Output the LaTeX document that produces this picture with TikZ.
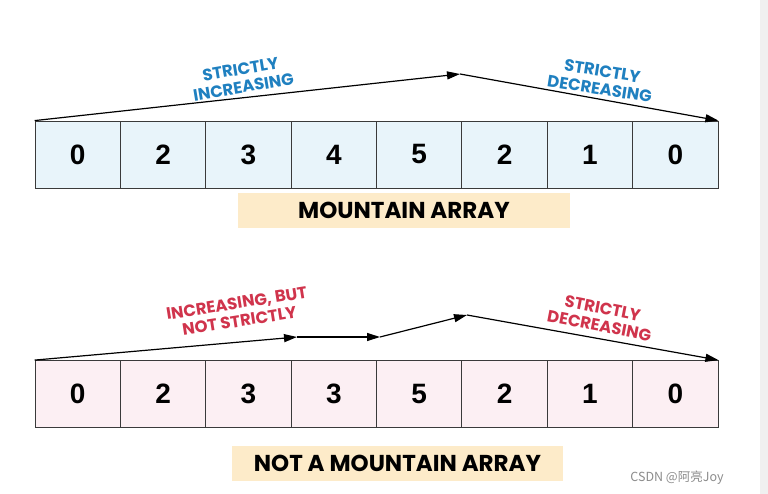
\documentclass[tikz,border=0pt]{standalone}
\usepackage{fontspec}
\setmainfont{Liberation Sans}
\newfontfamily\comic{Poppins}
\newfontfamily\cjk{Noto Sans CJK SC}
\usetikzlibrary{arrows.meta}
\definecolor{cellblue}{HTML}{E8F4FA}
\definecolor{cellpink}{HTML}{FCEFF3}
\definecolor{tagbg}{HTML}{FDEBC9}
\definecolor{lblblue}{HTML}{1F80C0}
\definecolor{lblred}{HTML}{D0344C}
\definecolor{edge}{HTML}{3A3A3A}
\begin{document}
\begin{tikzpicture}[x=1pt,y=-1pt,
  cell/.style={draw=edge,line width=0.8pt,minimum width=85.375pt,minimum height=67pt,inner sep=0pt,font=\fontsize{28}{28}\selectfont\bfseries},
  cellA/.style={cell,fill=cellblue},
  cellB/.style={cell,fill=cellpink},
  arr/.style={line width=1.2pt,-{Triangle[length=13pt,width=8pt]}},
  lbl/.style={font=\comic\bfseries\fontsize{16.5}{18}\selectfont,align=center,inner sep=0pt},
  tag/.style={fill=tagbg,inner sep=0pt,minimum height=35pt,font=\comic\bfseries\fontsize{23}{23}\selectfont}
]
\useasboundingbox (0,0) rectangle (768,494);
\fill[white] (0,0) rectangle (768,494);
\fill[black!6] (760,0) rectangle (768,494);

% top array
\foreach \v [count=\i] in {0,2,3,4,5,2,1,0}
  \node[cellA] (t\i) at ({35+85.375*(\i-0.5)},154.5) {\v};
\coordinate (tpeak) at (460,74);
\draw[arr] (t1.north west) -- (tpeak);
\draw[arr] (tpeak) -- (t8.north east);
\node[lbl,text=lblblue,rotate=9.5] (tinc) at (242,78) {STRICTLY\\INCREASING};
\node[lbl,text=lblblue,rotate=-9] (tdec) at (601,80) {STRICTLY\\DECREASING};
\node[tag,minimum width=332pt] (ttag) at (404,210.5) {MOUNTAIN ARRAY};

% bottom array
\foreach \v [count=\i] in {0,2,3,3,5,2,1,0}
  \node[cellB] (b\i) at ({35+85.375*(\i-0.5)},394) {\v};
\coordinate (bp1) at (297,337);
\coordinate (bp2) at (380,337);
\coordinate (bp3) at (467,315);
\draw[arr] (b1.north west) -- (bp1);
\draw[arr] (bp1) -- (bp2);
\draw[arr] (bp2) -- (bp3);
\draw[arr] (bp3) -- (b8.north east);
\node[lbl,text=lblred,rotate=9] (binc) at (238,312) {INCREASING, BUT\\NOT STRICTLY};
\node[lbl,text=lblred,rotate=-11] (bdec) at (601,317) {STRICTLY\\DECREASING};
\node[tag,minimum width=331pt] (btag) at (397.5,463) {NOT A MOUNTAIN ARRAY};

\node[text=black!45,font=\cjk\fontsize{12.5}{12.5}\selectfont,inner sep=0pt] (wm) at (677,478) {CSDN @阿亮Joy};
\end{tikzpicture}
\end{document}
